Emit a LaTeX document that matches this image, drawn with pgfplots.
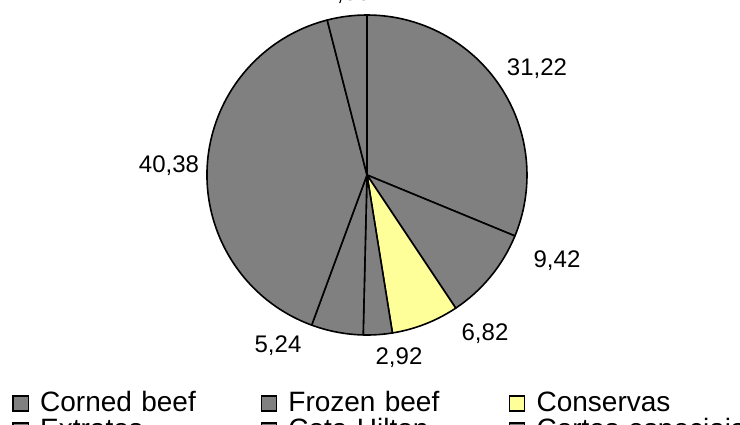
\documentclass[border=0pt]{standalone}
\usepackage{pgfplots}
\usepackage{pgfplotstable}
\pgfplotsset{compat=1.18}
\usepackage{fontspec}
\setmainfont{Liberation Sans}
\definecolor{slicegray}{HTML}{808080}
\definecolor{sliceyellow}{HTML}{FFFF99}

% slices clockwise from 12 o'clock; lx, ly = label position (baseline centre)
\pgfplotstableread{
name value col lx ly lab
{Corned beef} 31.22 slicegray 170 100 {31,22}
{Frozen beef} 9.42 slicegray 190 -92 {9,42}
{Conservas} 6.82 sliceyellow 118 -165 {6,82}
{Extratos} 2.92 slicegray 32 -189 {2,92}
{Cota Hilton} 5.24 slicegray -89 -177 {5,24}
{Cortes especiais} 40.38 slicegray -198 3 {40,38}
{Outros} 4.00 slicegray -20 175 {4,00}
}\piedata

\begin{document}
\begin{tikzpicture}
\useasboundingbox (0,0) rectangle (740bp,425bp);
\clip (0,0) rectangle (740bp,425bp);
\begin{axis}[
  at={(0,0)}, anchor=south west,
  x=1bp, y=1bp,
  xmin=-367, xmax=373, ymin=-250, ymax=175,
  hide axis, clip=false,
  legend columns=3,
  legend cell align=left,
  legend style={
    at={(axis cs:-354.5,-216)}, anchor=north west,
    draw=none, fill=none, inner sep=0pt, outer sep=0pt,
    font=\fontsize{28bp}{28bp}\selectfont,
    nodes={inner sep=0pt, outer sep=0pt, anchor=base west, text width=220bp, align=left, text height=20bp, text depth=7bp},
    row sep=0pt,
    /tikz/every odd column/.append style={column sep=11.5bp},
    /tikz/every even column/.append style={column sep=0.5bp},
  },
  pieleg/.style={legend image code/.code={\draw[##1, draw=black, line width=1.2bp] (0bp,0bp) rectangle (15bp,15bp);}},
]
\pgfplotstablegetrowsof{\piedata}
\pgfmathtruncatemacro\N{\pgfplotsretval-1}
\def\cum{0}
\pgfplotsforeachungrouped \i in {0,...,\N}{
  \pgfplotstablegetelem{\i}{value}\of\piedata \let\v\pgfplotsretval
  \pgfplotstablegetelem{\i}{col}\of\piedata \let\c\pgfplotsretval
  \pgfplotstablegetelem{\i}{name}\of\piedata \let\nm\pgfplotsretval
  \pgfplotstablegetelem{\i}{lx}\of\piedata \let\lx\pgfplotsretval
  \pgfplotstablegetelem{\i}{ly}\of\piedata \let\ly\pgfplotsretval
  \pgfplotstablegetelem{\i}{lab}\of\piedata \let\lb\pgfplotsretval
  \pgfmathsetmacro\sa{90-3.6*\cum}
  \pgfmathsetmacro\ea{90-3.6*(\cum+\v)}
  \edef\temp{\noexpand\filldraw[fill=\c, draw=black, line width=1.6bp, line join=round]
     (axis cs:0,0) -- (axis cs:{160*cos(\sa)},{160*sin(\sa)})
     arc[start angle=\sa, end angle=\ea, radius=160bp] -- cycle;
     \noexpand\node[anchor=base, inner sep=0pt, font=\noexpand\fontsize{24bp}{24bp}\noexpand\selectfont] at (axis cs:\lx,\ly) {\lb};}
  \temp
  \edef\temp{\noexpand\addlegendimage{pieleg, fill=\c}\noexpand\addlegendentry{\nm}}
  \temp
  \pgfmathsetmacro\cum{\cum+\v}
}
\end{axis}
\end{tikzpicture}
\end{document}
